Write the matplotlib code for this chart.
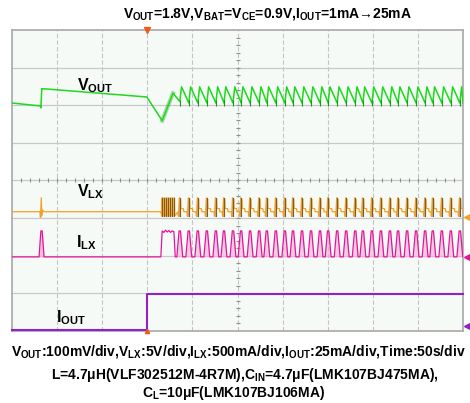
import numpy as np
import matplotlib
matplotlib.use("Agg")
from matplotlib import pyplot as plt

plt.rcParams['font.family'] = ['Liberation Sans', 'DejaVu Sans']
plt.rcParams['font.weight'] = 'bold'
plt.rcParams['mathtext.fontset'] = 'custom'
plt.rcParams['mathtext.rm'] = 'Liberation Sans:bold'
plt.rcParams['mathtext.it'] = 'Liberation Sans:bold'
plt.rcParams['mathtext.bf'] = 'Liberation Sans:bold'
plt.rcParams['mathtext.default'] = 'rm'

# ---- values (x in div, y in div) ----
n_xdiv = 10
n_ydiv = 8
t_load_step = 2.99          # trigger / load step
t_single = 0.65             # lone switching pulse before step
t_burst = (3.30, 3.61)      # burst right after step

# switching pulse times after the burst
pulse_t = [3.72, 3.92, 4.12, 4.32, 4.52, 4.70, 4.90, 5.08, 5.28, 5.48, 5.65,
           5.85, 6.05, 6.23, 6.43, 6.63, 6.83, 7.01, 7.21, 7.41, 7.61, 7.78,
           7.98, 8.18, 8.38, 8.56, 8.76, 8.96, 9.16, 9.33, 9.53, 9.73, 9.93]

# VOUT
vout_start = [6.06, 5.98]     # before lone pulse
vout_after_single = [6.44, 6.22]
vout_dip = 5.59
vout_burst_top = 6.32
vout_peak = 6.49
vout_trough = 6.06

# VLX
vlx_base = 3.17
vlx_top = 3.54
vlx_low = 3.02

# ILX
ilx_base = 1.97
ilx_peak = 2.66
ilx_burst = [2.66, 2.62, 2.68, 2.63, 2.67, 2.62, 2.66, 2.64]

# IOUT
iout_levels = [0.0, 0.99]

green = '#1fd81f'
dkgreen = '#169a16'
orange = '#f2a126'
tan = '#c49c66'
brown = '#7c5a2c'
magenta = '#e5159a'
pink = '#f3a6d6'
purple = '#9222c2'

fig = plt.figure(figsize=(4.70, 4.03), dpi=100)
ax = fig.add_axes([12/470, 1-331/403, 451/470, 301/403])
ax.set_facecolor('#f5faf7')
ax.set_xlim(0, n_xdiv)
ax.set_ylim(0, n_ydiv)
ax.set_xticks([])
ax.set_yticks([])
for s in ax.spines.values():
    s.set_color('#a8a8a8')
    s.set_linewidth(1.2)

# grid
for i in range(1, n_xdiv):
    ax.axvline(i, color='#c4c4c4', lw=0.8, ls=(0, (4, 2)), zorder=0)
for j in range(1, n_ydiv):
    ax.axhline(j, color='#c8c8c8', lw=0.9, zorder=0)
# centre ticks
tx = np.arange(0.2, n_xdiv, 0.2)
ax.plot(tx, np.full(len(tx), 4), ls='none', marker='|', ms=3, color='#909090', mew=0.8, zorder=1)
ty = np.arange(0.2, n_ydiv, 0.2)
ax.plot(np.full(len(ty), 5), ty, ls='none', marker='_', ms=3, color='#909090', mew=0.8, zorder=1)

# ---- VOUT ----
vx = [0, t_single - 0.01, t_single - 0.01, t_single + 0.01, t_single + 0.03,
      t_load_step, t_burst[0] + 0.03, t_burst[1] - 0.04]
vy = [vout_start[0], vout_start[1], vout_start[1] - 0.05, vout_after_single[0],
      vout_after_single[0], vout_after_single[1], vout_dip, vout_burst_top]
vx.append(pulse_t[0])
vy.append(vout_trough + 0.04)
for k, t in enumerate(pulse_t):
    t_next = pulse_t[k + 1] if k + 1 < len(pulse_t) else n_xdiv
    vx += [t + 0.04, t_next]
    vy += [vout_peak, vout_trough]
ax.plot(vx, vy, color=green, lw=1.1, zorder=5)
ax.plot([t_burst[0] + 0.03, t_burst[1] - 0.04], [vout_dip, vout_burst_top],
        color=dkgreen, lw=3, alpha=0.35, zorder=4)
ax.plot(pulse_t, [vout_trough] * len(pulse_t), ls='none', marker='|', ms=4,
        color=dkgreen, mew=0.8, zorder=6)

# ---- VLX ----
lx_x = [0, t_single - 0.03, t_single - 0.02, t_single, t_single + 0.01,
        t_single + 0.02, t_single + 0.06, t_burst[0]]
lx_y = [vlx_base, vlx_base, vlx_low, vlx_top, vlx_low + 0.05, vlx_base + 0.05,
        vlx_base, vlx_base]
ax.fill_between([t_single - 0.015, t_single + 0.01], vlx_low, vlx_top, color=tan, alpha=0.8, lw=0, zorder=3)
bx = np.arange(t_burst[0] + 0.02, t_burst[1], 0.045)
for b in bx:
    lx_x += [b, b + 0.005, b + 0.015, b + 0.02]
    lx_y += [vlx_low + 0.04, vlx_top, vlx_top, vlx_low + 0.04]
    ax.plot([b + 0.01, b + 0.01], [vlx_low + 0.04, vlx_top], color=brown, lw=0.7, zorder=5)
ax.fill_between([t_burst[0], t_burst[1]], vlx_low + 0.02, vlx_top, color=tan, alpha=0.45, lw=0, zorder=3)
for t in pulse_t:
    lx_x += [t - 0.04, t - 0.03, t - 0.01, t + 0.02, t + 0.025, t + 0.08, t + 0.09]
    lx_y += [vlx_base, vlx_low + 0.03, vlx_top, vlx_top - 0.04, vlx_base + 0.09,
             vlx_base + 0.08, vlx_base]
    ax.fill_between([t - 0.02, t + 0.025], vlx_low + 0.02, vlx_top, color=tan, alpha=0.85, lw=0, zorder=3)
    ax.plot([t, t], [vlx_low + 0.04, vlx_top], color=brown, lw=0.8, zorder=5)
lx_x.append(n_xdiv)
lx_y.append(vlx_base)
ax.plot(lx_x, lx_y, color=orange, lw=0.9, zorder=4)

# ---- ILX ----
ix = [0, t_single - 0.05, t_single - 0.01, t_single + 0.02, t_single + 0.06, t_burst[0]]
iy = [ilx_base, ilx_base, ilx_peak, ilx_peak, ilx_base, ilx_base]
ax.fill_between(ix[1:5], ilx_base, iy[1:5], color=pink, alpha=0.7, lw=0, zorder=3)
bxs = np.linspace(t_burst[0] + 0.03, t_burst[1] - 0.02, len(ilx_burst))
ix += list(bxs) + [t_burst[1] + 0.01]
iy += ilx_burst + [ilx_base]
for t in pulse_t:
    px = [t - 0.065, t - 0.015, t + 0.015, t + 0.065]
    py = [ilx_base, ilx_peak, ilx_peak, ilx_base]
    ax.fill_between(px, ilx_base, py, color=pink, alpha=0.55, lw=0, zorder=3)
    ix += px
    iy += py
ix.append(n_xdiv)
iy.append(ilx_base)
ax.plot(ix, iy, color=magenta, lw=0.9, zorder=4)

# ---- IOUT ----
ax.plot([0, t_load_step, t_load_step, n_xdiv],
        [iout_levels[0] + 0.02, iout_levels[0] + 0.02, iout_levels[1], iout_levels[1]],
        color=purple, lw=1.5, zorder=4, clip_on=False)

# markers
ax.plot([t_load_step], [n_ydiv], marker='v', ms=4, color='#f05a1a', clip_on=False, zorder=7)
ax.plot([t_load_step], [0], marker='^', ms=3, color='#f05a1a', clip_on=False, zorder=7)
ax.plot([n_xdiv + 0.09], [vlx_low], marker='<', ms=4, color=orange, clip_on=False)
ax.plot([n_xdiv + 0.09], [ilx_base], marker='<', ms=4, color=magenta, clip_on=False)
ax.plot([n_xdiv + 0.09], [0.12], marker='<', ms=4, color=purple, clip_on=False)

# channel labels
ax.text(1.84, 6.52, r'V$_{\rm OUT}$', fontsize=11.5, ha='center', va='center', zorder=8)
ax.text(1.73, 3.70, r'V$_{\rm LX}$', fontsize=11.5, ha='center', va='center', zorder=8)
ax.text(1.66, 2.34, r'I$_{\rm LX}$', fontsize=11.5, ha='center', va='center', zorder=8)
ax.text(1.31, 0.35, r'I$_{\rm OUT}$', fontsize=11.5, ha='center', va='center', zorder=8)

fig.text(0.57, 0.965, r'V$_{\rm OUT}$=1.8V,V$_{\rm BAT}$=V$_{\rm CE}$=0.9V,I$_{\rm OUT}$=1mA→25mA',
         fontsize=10, ha='center', va='center')
fig.text(0.508, 0.129,
         r'V$_{\rm OUT}$:100mV/div,V$_{\rm LX}$:5V/div,I$_{\rm LX}$:500mA/div,I$_{\rm OUT}$:25mA/div,Time:50s/div',
         fontsize=10, ha='center', va='center')
fig.text(0.521, 0.069, r'L=4.7μH(VLF302512M-4R7M),C$_{\rm IN}$=4.7μF(LMK107BJ475MA),',
         fontsize=10, ha='center', va='center')
fig.text(0.496, 0.025, r'C$_{\rm L}$=10μF(LMK107BJ106MA)',
         fontsize=10, ha='center', va='center')

fig.savefig('out.png', dpi=100, facecolor='white')
